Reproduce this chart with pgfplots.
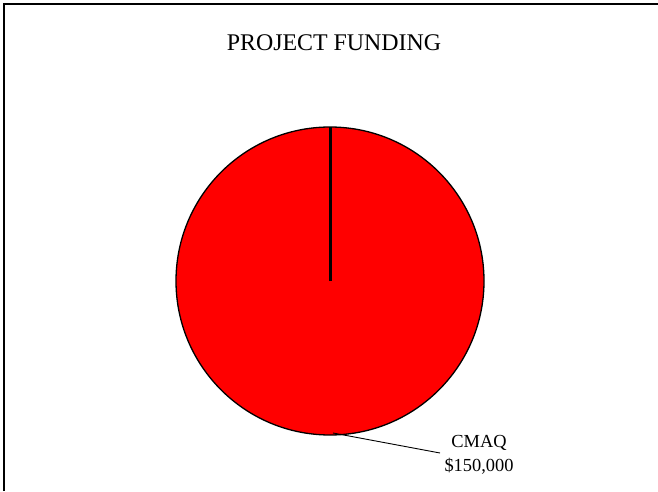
\documentclass[border=0pt]{standalone}
\usepackage{pgfplots}
\pgfplotsset{compat=1.18}
\usepackage{fontspec}
\setmainfont{Liberation Serif}

% one slice only: CMAQ
\def\cmaq{150000}
\def\total{150000}

\begin{document}
\begin{tikzpicture}[x=1pt,y=1pt]
\path[use as bounding box] (0,0) rectangle (658,491);
\begin{axis}[
    at={(0,0)}, anchor=origin,
    scale only axis,
    width=658pt, height=491pt,
    xmin=0, xmax=658, ymin=0, ymax=491,
    hide axis,
    clip=false,
]
% frame (cut at right and bottom)
\draw[line width=1.6pt] (axis cs:4,0) -- (axis cs:4,487) -- (axis cs:658,487);

\edef\sweep{\fpeval{360*\cmaq/\total}}
% pie
\fill[red] (axis cs:330,210) -- ++(90:154) arc[start angle=90, delta angle=-\sweep, radius=154] -- cycle;
\draw[line width=1.3pt] (axis cs:330,210) circle[radius=154];
\draw[line width=3pt] (axis cs:330,210) -- (axis cs:330,364);

% title
\node[anchor=base, font=\fontsize{23.9}{28}\selectfont] at (axis cs:334,440) {PROJECT FUNDING};

% label with leader
\draw[line width=0.9pt] (axis cs:333,58) -- (axis cs:440,38);
\node[anchor=base, font=\fontsize{18.4}{22}\selectfont] at (axis cs:479,44) {CMAQ};
\node[anchor=base, font=\fontsize{18.4}{22}\selectfont] at (axis cs:479,19.5) {\$150,000};
\end{axis}
\end{tikzpicture}
\end{document}
